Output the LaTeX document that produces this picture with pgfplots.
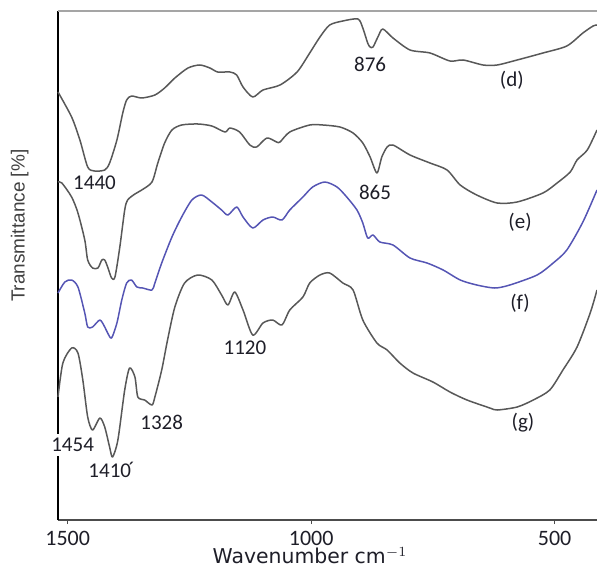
\documentclass[border=0pt]{standalone}
\usepackage{fontspec}
\setmainfont{Carlito}
\newfontfamily\axisfont{DejaVu Sans}
\newfontfamily\ylabfont{Liberation Sans}
\usepackage{pgfplots}
\pgfplotsset{compat=1.18}

\definecolor{curvegray}{RGB}{88,88,88}
\definecolor{curveblue}{RGB}{85,85,180}
\definecolor{framegray}{RGB}{165,165,165}
\definecolor{labelink}{RGB}{30,30,40}

\begin{document}
\begin{tikzpicture}
\begin{axis}[
  scale only axis,
  width=269.5pt, height=254.5pt,
  x dir=reverse,
  xmin=413, xmax=1520,
  ymin=47, ymax=556,
  clip=false,
  axis x line*=bottom, axis y line*=left,
  x axis line style={draw=black!70, line width=0.8pt, -},
  y axis line style={draw=black, line width=0.8pt, -},
  xtick={500,1000,1500},
  ytick=\empty,
  tick align=outside,
  major tick length=2pt,
  every tick/.style={black!70, line width=0.6pt},
  xticklabel style={font=\fontsize{11}{12}\selectfont, text=labelink},
  /pgf/number format/assume math mode=true,
  /pgf/number format/1000 sep={},
  xlabel={\axisfont Wavenumber cm$^{-1}$},
  xlabel style={at={(axis description cs:0.4675,-0.07)}, anchor=center,
    font=\fontsize{10.2}{12}\selectfont, text=labelink},
  ylabel={\ylabfont Transmittance [\%]},
  ylabel style={at={(axis description cs:-0.071,0.578)}, anchor=center,
    rotate=0, font=\fontsize{9.5}{11}\selectfont, text=black!75},
  every axis plot/.append style={line width=0.75pt, line join=round, smooth, tension=0.45},
]
% (d)
\addplot[curvegray] coordinates {
  (1520,475) (1492,450) (1475,427) (1459,400) (1445,396) (1424,397) (1414,404)
  (1399,427) (1387,454) (1379,467) (1369,471) (1348,469) (1321,472) (1301,479)
  (1280,489) (1253,499) (1229,502) (1208,499) (1192,495) (1167,495) (1153,492)
  (1140,480) (1120,470) (1099,477) (1064,482) (1029,495) (1003,514) (982,530)
  (962,542) (935,546) (904,548) (894,539) (884,524) (879,520) (873,520)
  (863,530) (853,538) (832,529) (797,517) (756,514) (715,506) (688,507)
  (647,502) (618,502) (577,507) (524,514) (475,521) (442,534) (421,541) (413,542)
};
% (e)
\addplot[curvegray] coordinates {
  (1520,385) (1512,384) (1492,370) (1479,354) (1465,327) (1459,307) (1449,299)
  (1438,299) (1430,307) (1424,307) (1418,300) (1410,289) (1403,290) (1393,320)
  (1383,357) (1377,367) (1362,373) (1348,377) (1327,385) (1315,404) (1301,424)
  (1286,437) (1266,442) (1233,443) (1204,441) (1177,435) (1167,439) (1147,435)
  (1126,422) (1112,420) (1091,429) (1071,425) (1064,425) (1044,435) (1003,442)
  (976,442) (941,440) (914,434) (894,424) (879,410) (865,394) (855,410)
  (844,420) (832,422) (797,412) (756,404) (721,397) (694,382) (660,372)
  (618,364) (577,365) (524,374) (495,384) (468,395) (454,407) (433,417) (413,437)
};
% (f)
\addplot[curveblue] coordinates {
  (1520,274) (1506,285) (1492,287) (1479,280) (1465,254) (1459,240) (1449,240)
  (1434,247) (1424,240) (1418,234) (1410,229) (1399,244) (1389,267) (1379,284)
  (1369,287) (1358,280) (1346,279) (1327,277) (1321,284) (1307,304) (1286,330)
  (1266,350) (1245,367) (1225,372) (1204,365) (1184,357) (1171,352) (1153,360)
  (1140,350) (1120,339) (1099,347) (1079,350) (1060,347) (1044,357) (1017,370)
  (997,380) (972,385) (947,380) (927,370) (906,357) (894,344) (884,329)
  (873,332) (859,325) (832,322) (797,309) (762,304) (729,297) (694,287)
  (660,282) (623,279) (592,282) (536,292) (503,304) (475,317) (442,345) (413,377)
};
% (g)
\addplot[curvegray] coordinates {
  (1520,170) (1510,204) (1492,219) (1479,214) (1469,187) (1459,150) (1449,137)
  (1434,149) (1424,140) (1414,120) (1408,110) (1397,127) (1383,177) (1373,199)
  (1362,190) (1356,170) (1342,167) (1327,162) (1321,170) (1307,197) (1295,227)
  (1280,260) (1260,284) (1233,292) (1204,287) (1184,272) (1171,262) (1157,275)
  (1140,257) (1120,232) (1099,244) (1079,247) (1060,242) (1044,257) (1017,270)
  (1003,284) (982,292) (962,294) (935,284) (914,277) (894,247) (865,224)
  (844,217) (818,204) (791,194) (750,185) (715,175) (680,167) (633,159)
  (618,157) (577,160) (544,167) (510,177) (483,197) (454,220) (427,254) (413,277)
};

\draw[framegray, line width=1pt] (rel axis cs:0,1) -- (rel axis cs:1,1);

\begin{scope}[every node/.style={font=\fontsize{10.5}{12}\selectfont, text=labelink, inner sep=1pt}]
\node at (axis cs:879,503) {876};
\node at (axis cs:588,487) {(d)};
\node at (axis cs:1445,384) {1440};
\node at (axis cs:869,375) {865};
\node at (axis cs:571,345) {(e)};
\node at (axis cs:571,264) {(f)};
\node at (axis cs:1136,219) {1120};
\node at (axis cs:1307,145) {1328};
\node[fill=white, inner sep=2pt] at (axis cs:1490,122) {1454};
\node at (axis cs:1410,97) {1410\kern-0.12em\raisebox{0.15ex}{´}};
\node at (axis cs:565,144) {(g)};
\end{scope}

\coordinate (bl) at (rel axis cs:-0.1076,-0.099);
\coordinate (tr) at (rel axis cs:1,1.0216);
\end{axis}
\pgfresetboundingbox
\path[use as bounding box] (bl) rectangle (tr);
\end{tikzpicture}
\end{document}
